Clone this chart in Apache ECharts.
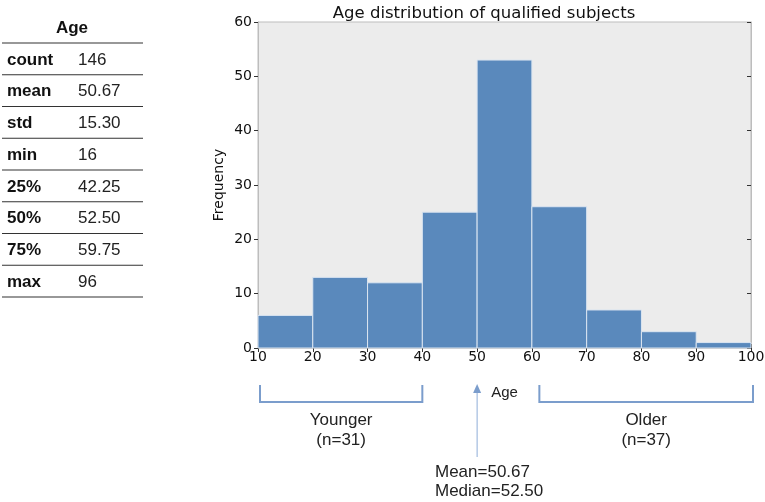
<!DOCTYPE html>
<html><head><meta charset="utf-8">
<script src="https://cdn.jsdelivr.net/npm/echarts@6/dist/echarts.min.js"></script>
<style>html,body{margin:0;padding:0;background:#fff}#c{width:765px;height:502px}</style>
</head><body><div id="c"></div>
<script>
// Data
const binEdges = [10, 20, 30, 40, 50, 60, 70, 80, 90, 100];
const frequencies = [6, 13, 12, 25, 53, 26, 7, 3, 1];
const statLabels = ['count', 'mean', 'std', 'min', '25%', '50%', '75%', 'max'];
const statValues = ['146', '50.67', '15.30', '16', '42.25', '52.50', '59.75', '96'];
const tableHeader = 'Age';
const titleText = 'Age distribution of qualified subjects';
const groupYounger = { range: [10, 40], label: 'Younger', n: 31 };
const groupOlder = { range: [61, 100], label: 'Older', n: 37 };
const arrowAt = 50;
const meanVal = '50.67';
const medianVal = '52.50';

const histData = frequencies.map((f, i) => [binEdges[i], binEdges[i + 1], f]);

const chart = echarts.init(document.getElementById('c'), null, { renderer: 'canvas' });
const tickFont = 'DejaVu Sans';
const arial = 'Liberation Sans, Arial, sans-serif';
const tick = { show: true, inside: true, length: 4, lineStyle: { color: '#333' } };
const frameLine = { show: true, lineStyle: { color: '#bdbdbd' } };

chart.setOption({
  animation: false,
  title: {
    text: titleText, left: 479, top: 0, textAlign: 'center',
    textStyle: { fontFamily: tickFont, fontSize: 16.5, fontWeight: 'normal', color: '#111' }
  },
  grid: {
    left: 258, right: 14, top: 22, bottom: 154, containLabel: false, outerBoundsMode: 'none',
    show: true, backgroundColor: '#ececec', borderColor: '#bdbdbd', borderWidth: 1
  },
  xAxis: [{
    type: 'value', min: 10, max: 100, interval: 10,
    name: 'Age', nameLocation: 'middle', nameGap: 37,
    nameTextStyle: { fontFamily: arial, fontSize: 15, color: '#222' },
    axisLine: frameLine, axisTick: tick,
    axisLabel: { fontFamily: tickFont, fontSize: 14, color: '#111', margin: 2 },
    splitLine: { show: false }
  }, {
    type: 'value', min: 10, max: 100, interval: 10, position: 'top',
    axisLine: frameLine, axisTick: tick,
    axisLabel: { show: false }, splitLine: { show: false }
  }],
  yAxis: [{
    type: 'value', min: 0, max: 60, interval: 10,
    name: 'Frequency', nameLocation: 'middle', nameGap: 32, nameRotate: 90, nameMoveOverlap: false,
    nameTextStyle: { fontFamily: tickFont, fontSize: 14, color: '#111' },
    axisLine: frameLine,
    axisTick: { show: true, inside: false, length: 4, lineStyle: { color: '#333' } },
    axisLabel: { fontFamily: tickFont, fontSize: 14, color: '#111', margin: 6 },
    splitLine: { show: false }
  }, {
    type: 'value', min: 0, max: 60, interval: 10, position: 'right',
    axisLine: frameLine, axisTick: tick,
    axisLabel: { show: false }, splitLine: { show: false }
  }],
  series: [{
    type: 'custom',
    data: histData,
    encode: { x: [0, 1], y: 2 },
    renderItem: function (params, api) {
      const p0 = api.coord([api.value(0), api.value(2)]);
      const p1 = api.coord([api.value(1), 0]);
      return {
        type: 'rect',
        shape: { x: p0[0], y: p0[1], width: p1[0] - p0[0], height: p1[1] - p0[1] },
        style: { fill: '#5a89bc', stroke: '#dbe5f1', lineWidth: 1 }
      };
    }
  }]
});

function buildGraphics() {
  const g = [];
  // Table
  const tx0 = 2, tx1 = 143, lineY0 = 43, step = 31.75;
  g.push({ type: 'text', x: 72, y: 28, style: { text: tableHeader, font: 'bold 17px ' + arial, fill: '#111', textAlign: 'center', textVerticalAlign: 'middle' } });
  for (let i = 0; i <= statLabels.length; i++) {
    const y = lineY0 + step * i;
    g.push({ type: 'line', shape: { x1: tx0, y1: y, x2: tx1, y2: y }, style: { stroke: '#333', lineWidth: 1.2 } });
  }
  statLabels.forEach((l, i) => {
    const yc = lineY0 + step * i + step / 2 + 1;
    g.push({ type: 'text', x: 7, y: yc, style: { text: l, font: 'bold 17px ' + arial, fill: '#111', textVerticalAlign: 'middle' } });
    g.push({ type: 'text', x: 78, y: yc, style: { text: statValues[i], font: '17px ' + arial, fill: '#222', textVerticalAlign: 'middle' } });
  });

  // Brackets
  const bracketColor = '#7b9dcc';
  const yTop = 385, yBot = 402;
  [groupYounger, groupOlder].forEach(gr => {
    const a = chart.convertToPixel({ xAxisIndex: 0 }, gr.range[0]) + 2;
    const b = chart.convertToPixel({ xAxisIndex: 0 }, gr.range[1]) + (gr === groupOlder ? 2 : 0);
    g.push({ type: 'polyline', shape: { points: [[a, yTop], [a, yBot], [b, yBot], [b, yTop]] }, style: { stroke: bracketColor, lineWidth: 2, fill: null } });
    g.push({ type: 'text', x: (a + b) / 2, y: 430, style: { text: gr.label + '\n(n=' + gr.n + ')', font: '17px ' + arial, fill: '#222', textAlign: 'center', textVerticalAlign: 'middle', lineHeight: 20 } });
  });

  // Arrow
  const ax = chart.convertToPixel({ xAxisIndex: 0 }, arrowAt);
  g.push({ type: 'line', shape: { x1: ax, y1: 457, x2: ax, y2: 390 }, style: { stroke: '#8eaed8', lineWidth: 1 } });
  g.push({ type: 'polygon', shape: { points: [[ax, 384], [ax - 4, 393], [ax + 4, 393]] }, style: { fill: '#7b9dcc' } });
  g.push({ type: 'text', x: 435, y: 482, style: { text: 'Mean=' + meanVal + '\nMedian=' + medianVal, font: '17px ' + arial, fill: '#222', textVerticalAlign: 'middle', lineHeight: 19 } });
  chart.setOption({ graphic: g });
}
buildGraphics();
</script></body></html>
